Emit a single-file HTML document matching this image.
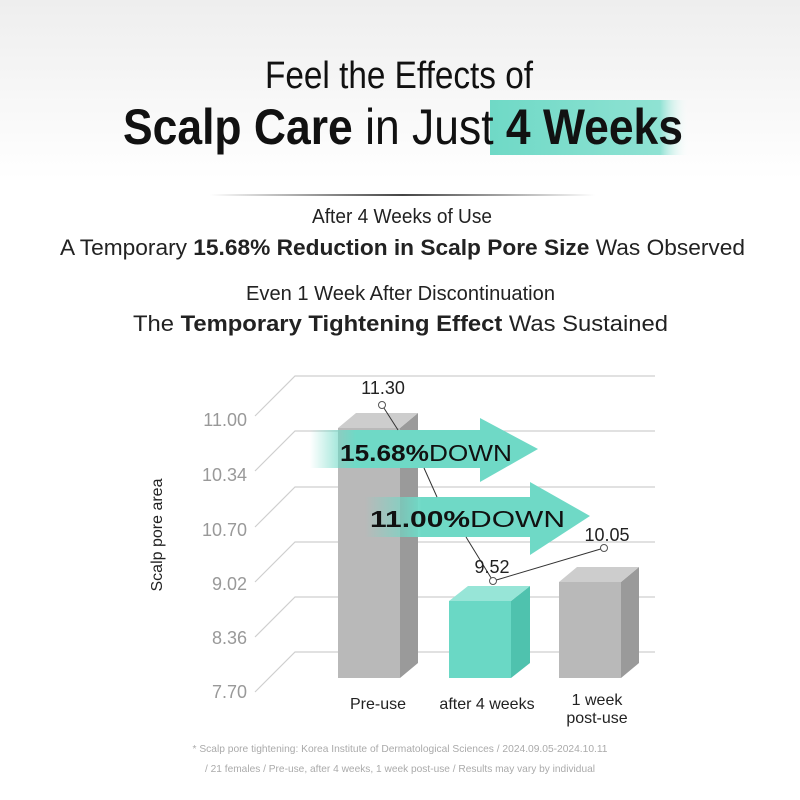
<!DOCTYPE html>
<html><head><meta charset="utf-8"><style>
html,body{margin:0;padding:0;background:#fff}
svg{display:block}
text{font-family:"Liberation Sans",sans-serif}
</style></head><body>
<svg width="800" height="800" viewBox="0 0 800 800" xmlns="http://www.w3.org/2000/svg">
<defs>
<linearGradient id="bg" x1="0" y1="0" x2="0" y2="1">
<stop offset="0" stop-color="#eeeeee"/><stop offset="1" stop-color="#ffffff"/></linearGradient>
<linearGradient id="hl" x1="0" y1="0" x2="1" y2="0">
<stop offset="0" stop-color="#6fd9c6"/><stop offset="0.85" stop-color="#8fe2d3"/><stop offset="1" stop-color="#ffffff" stop-opacity="0"/></linearGradient>
<linearGradient id="rule" x1="0" y1="0" x2="1" y2="0">
<stop offset="0" stop-color="#fff"/><stop offset="0.5" stop-color="#444"/><stop offset="1" stop-color="#fff"/></linearGradient>
<linearGradient id="arr1" x1="310" y1="0" x2="540" y2="0" gradientUnits="userSpaceOnUse">
<stop offset="0" stop-color="#6fd9c6" stop-opacity="0"/><stop offset="0.2" stop-color="#6fd9c6"/><stop offset="1" stop-color="#6fd9c6"/></linearGradient>
<linearGradient id="arr2" x1="365" y1="0" x2="590" y2="0" gradientUnits="userSpaceOnUse">
<stop offset="0" stop-color="#6fd9c6" stop-opacity="0"/><stop offset="0.25" stop-color="#6fd9c6"/><stop offset="1" stop-color="#6fd9c6"/></linearGradient>
</defs>
<rect x="0" y="0" width="800" height="180" fill="url(#bg)"/>
<rect x="0" y="180" width="800" height="620" fill="#fff"/>
<rect x="490" y="100" width="200" height="55" fill="url(#hl)"/>
<text x="399" y="88" font-size="38" text-anchor="middle" textLength="268" lengthAdjust="spacingAndGlyphs" fill="#111">Feel the Effects of</text>
<text x="123" y="144" font-size="50" textLength="560" lengthAdjust="spacingAndGlyphs" fill="#111"><tspan font-weight="bold">Scalp Care</tspan> in Just <tspan font-weight="bold">4 Weeks</tspan></text>
<rect x="210" y="194" width="385" height="2" fill="url(#rule)"/>
<text x="402" y="223" font-size="20" text-anchor="middle" textLength="180" lengthAdjust="spacingAndGlyphs" fill="#222">After 4 Weeks of Use</text>
<text x="60" y="255" font-size="22" textLength="685" lengthAdjust="spacingAndGlyphs" fill="#222">A Temporary <tspan font-weight="bold">15.68% Reduction in Scalp Pore Size</tspan> Was Observed</text>
<text x="246" y="300" font-size="20" textLength="309" lengthAdjust="spacingAndGlyphs" fill="#222">Even 1 Week After Discontinuation</text>
<text x="133" y="331" font-size="22" textLength="535" lengthAdjust="spacingAndGlyphs" fill="#222">The <tspan font-weight="bold">Temporary Tightening Effect</tspan> Was Sustained</text>

<g stroke="#cfcfcf" stroke-width="1.2" fill="none">
<path d="M255 416 L295 376 H655"/>
<path d="M255 471 L295 431 H655"/>
<path d="M255 527 L295 487 H655"/>
<path d="M255 582 L295 542 H655"/>
<path d="M255 637 L295 597 H655"/>
<path d="M255 692 L295 652 H655"/>
</g>
<g font-size="18" fill="#999" text-anchor="end">
<text x="247" y="426">11.00</text>
<text x="247" y="481">10.34</text>
<text x="247" y="536">10.70</text>
<text x="247" y="590">9.02</text>
<text x="247" y="644">8.36</text>
<text x="247" y="698">7.70</text>
</g>
<text transform="translate(162,535) rotate(-90)" font-size="16" fill="#222" text-anchor="middle">Scalp pore area</text>

<!-- bars -->
<rect x="338" y="428" width="62" height="250" fill="#b9b9b9"/>
<polygon points="400,428 418,413 418,663 400,678" fill="#9a9a9a"/>
<polygon points="338,428 356,413 418,413 400,428" fill="#cdcdcd"/>

<rect x="449" y="601" width="62" height="77" fill="#6ad8c5"/>
<polygon points="511,601 530,586 530,663 511,678" fill="#4fc2ae"/>
<polygon points="449,601 468,586 530,586 511,601" fill="#97e5d7"/>

<rect x="559" y="582" width="62" height="96" fill="#b9b9b9"/>
<polygon points="621,582 639,567 639,663 621,678" fill="#9a9a9a"/>
<polygon points="559,582 577,567 639,567 621,582" fill="#cdcdcd"/>

<!-- arrows -->
<polygon points="310,430 480,430 480,418 538,449 480,482 480,468 310,468" fill="url(#arr1)"/>
<polygon points="365,497 530,497 530,482 590,516 530,555 530,537 365,537" fill="url(#arr2)"/>

<g stroke="#333" stroke-width="1" fill="none">
<line x1="382" y1="405" x2="398" y2="430"/>
<line x1="424" y1="468" x2="437" y2="497"/>
<line x1="466" y1="537" x2="493" y2="581"/>
<line x1="493" y1="581" x2="604" y2="548"/>
</g>
<g fill="#fff" stroke="#555" stroke-width="1">
<circle cx="382" cy="405" r="3.5"/><circle cx="493" cy="581" r="3.5"/><circle cx="604" cy="548" r="3.5"/>
</g>
<g font-size="18" fill="#222" text-anchor="middle">
<text x="383" y="394">11.30</text>
<text x="492" y="573">9.52</text>
<text x="607" y="541">10.05</text>
</g>
<text x="340" y="461" font-size="23" textLength="172" lengthAdjust="spacingAndGlyphs" fill="#111"><tspan font-weight="bold">15.68%</tspan>DOWN</text>
<text x="370" y="527" font-size="23" textLength="195" lengthAdjust="spacingAndGlyphs" fill="#111"><tspan font-weight="bold">11.00%</tspan>DOWN</text>

<g font-size="16" fill="#222" text-anchor="middle">
<text x="378" y="709">Pre-use</text>
<text x="487" y="709">after 4 weeks</text>
<text x="597" y="705">1 week</text>
<text x="597" y="723">post-use</text>
</g>
<g font-size="10.5" fill="#aaa" text-anchor="middle">
<text x="400" y="752" textLength="415" lengthAdjust="spacingAndGlyphs">* Scalp pore tightening: Korea Institute of Dermatological Sciences / 2024.09.05-2024.10.11</text>
<text x="400" y="772" textLength="390" lengthAdjust="spacingAndGlyphs">/ 21 females / Pre-use, after 4 weeks, 1 week post-use / Results may vary by individual</text>
</g>
</svg>
</body></html>
